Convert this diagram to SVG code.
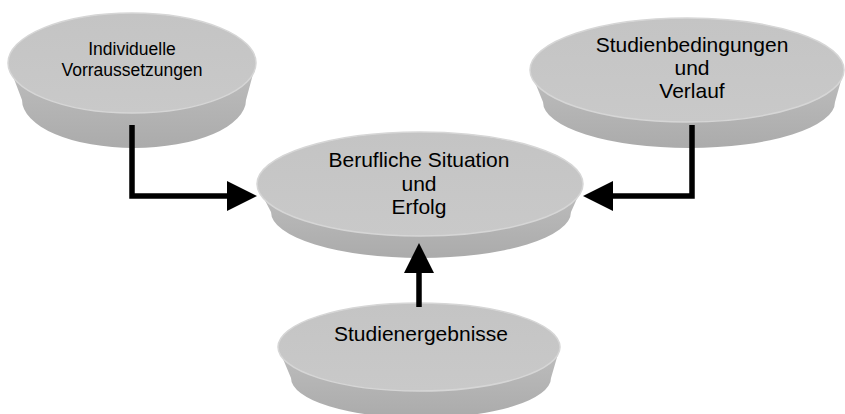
<svg xmlns="http://www.w3.org/2000/svg" width="845" height="414" viewBox="0 0 845 414">
  <defs>
    <linearGradient id="sideGrad" x1="0" y1="0" x2="0" y2="1">
      <stop offset="0" stop-color="#bebebe"/>
      <stop offset="1" stop-color="#ababab"/>
    </linearGradient>
    <linearGradient id="topGrad" x1="0" y1="0" x2="0" y2="1">
      <stop offset="0" stop-color="#c4c4c4"/>
      <stop offset="1" stop-color="#c9c9c9"/>
    </linearGradient>
    <style>
      .side { fill: url(#sideGrad); }
      .top { fill: url(#topGrad); stroke: #d6d6d6; stroke-width: 1.5; }
      .lbl { font-family: "Liberation Sans", Arial, sans-serif; fill: #000; text-anchor: middle; }
      .conn { fill: none; stroke: #000; stroke-width: 5.5; }
      .head { fill: #000; }
    </style>
  </defs>
  <rect width="845" height="414" fill="#fff"/>

  <g id="node-individuelle">
    <path class="side" d="M8,63 L22,100 A112,48 0 0 0 246,100 L256,63 Z"/>
    <ellipse class="top" cx="132" cy="63" rx="124" ry="50"/>
    <text class="lbl" font-size="17.5" x="132" y="55">Individuelle</text>
    <text class="lbl" font-size="17.5" x="132" y="76">Vorraussetzungen</text>
  </g>

  <g id="node-studienbedingungen">
    <path class="side" d="M530,70 L543,102 A146,46 0 0 0 835,102 L844,70 Z"/>
    <ellipse class="top" cx="687" cy="70" rx="157" ry="52"/>
    <text class="lbl" font-size="21" x="692" y="52">Studienbedingungen</text>
    <text class="lbl" font-size="21" x="692" y="75">und</text>
    <text class="lbl" font-size="21" x="692" y="98">Verlauf</text>
  </g>

  <g id="node-berufliche">
    <path class="side" d="M257,185 L271,212 A150,46 0 0 0 571,212 L583,185 Z"/>
    <ellipse class="top" cx="420" cy="184" rx="163" ry="52"/>
    <text class="lbl" font-size="21" x="419" y="167">Berufliche Situation</text>
    <text class="lbl" font-size="21" x="419" y="191">und</text>
    <text class="lbl" font-size="21" x="419" y="214">Erfolg</text>
  </g>

  <g id="node-studienergebnisse">
    <path class="side" d="M278,347 L291,378 A130,40 0 0 0 551,378 L560,347 Z"/>
    <ellipse class="top" cx="419" cy="347" rx="141" ry="44"/>
    <text class="lbl" font-size="21" x="421" y="341">Studienergebnisse</text>
  </g>

  <g id="connectors">
    <path class="conn" d="M132,125 V196 H230"/>
    <polygon class="head" points="227,181 257,196 227,211"/>
    <path class="conn" d="M692,125 V196 H612"/>
    <polygon class="head" points="613,181 583,196 613,211"/>
    <path class="conn" d="M419,307 V271"/>
    <polygon class="head" points="404,273 419,243 434,273"/>
  </g>
</svg>
